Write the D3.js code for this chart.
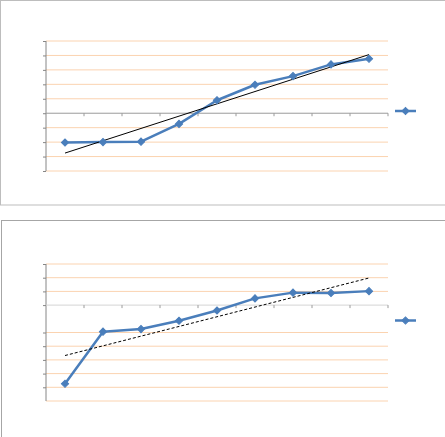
<!DOCTYPE html>
<html>
<head>
<meta charset="utf-8">
<style>
    body { margin: 0; background: #fff; }
    svg { display: block; font-family: "Liberation Sans", Arial, sans-serif; }
</style>
</head>
<body>
<div id="container"></div>
<script src="https://cdn.jsdelivr.net/npm/d3@7"></script>
<script>
    // Data
    let categories = [1, 2, 3, 4, 5, 6, 7, 8, 9];
    let topValues = [-2.03, -2.0, -1.97, -0.74, 0.90, 1.97, 2.57, 3.38, 3.77];
    let bottomValues = [-5.74, -1.94, -1.75, -1.14, -0.39, 0.49, 0.91, 0.88, 1.02];

    // Axis ticks / gridlines
    let topTicks = [5, 4, 3, 2, 1, 0, -1, -2, -3, -4];
    let bottomTicks = [3, 2, 1, 0, -2, -3, -4, -5, -6];
    let bottomGrid = [3, 2, 1, -2, -3, -4, -5, -6, -7];

    let blue = "#4a7ebb";
    let gridColor = "#fbd3b0";

    let svg = d3.select("#container")
        .append("svg")
        .attr("width", 445)
        .attr("height", 437);

    // Chart frames
    svg.append("rect")
        .attr("x", 0.5).attr("y", 0.5)
        .attr("width", 460).attr("height", 204.5)
        .attr("fill", "none").attr("stroke", "#bdbdbd");
    svg.append("rect")
        .attr("x", 1.5).attr("y", 220.5)
        .attr("width", 460).attr("height", 240)
        .attr("fill", "none").attr("stroke", "#a6a6a6");

    function linearFit(values) {
        let xs = values.map((d, i) => i + 1);
        let mx = d3.mean(xs), my = d3.mean(values);
        let sxy = d3.sum(xs, (x, i) => (x - mx) * (values[i] - my));
        let sxx = d3.sum(xs, x => (x - mx) * (x - mx));
        let slope = sxy / sxx;
        return x => my + slope * (x - mx);
    }

    function drawChart(opts) {
        let g = svg.append("g");

        let x = d3.scaleBand()
            .domain(categories)
            .range([46, 388]);

        let y = d3.scaleLinear()
            .domain(opts.domain)
            .range([opts.top, opts.bottom]);

        // Gridlines
        g.selectAll(".grid")
            .data(opts.grid)
            .enter()
            .append("line")
            .attr("x1", 46).attr("x2", 388)
            .attr("y1", d => y(d)).attr("y2", d => y(d))
            .attr("stroke", gridColor)
            .attr("stroke-width", 1);

        // Y axis
        let yAxis = d3.axisLeft(y)
            .tickValues(opts.ticks)
            .tickSize(3)
            .tickFormat("");
        let ya = g.append("g")
            .attr("transform", "translate(46,0)")
            .call(yAxis);
        ya.select(".domain").attr("stroke", "#868686").attr("d", `M0,${opts.top}V${opts.bottom}`);
        ya.selectAll(".tick line").attr("stroke", "#868686");

        // X axis on zero line, ticks at category boundaries
        let xa = g.append("g")
            .attr("transform", `translate(0,${y(0)})`);
        xa.append("line")
            .attr("x1", 46).attr("x2", 388)
            .attr("stroke", opts.zeroColor);
        xa.selectAll(".xt")
            .data(categories)
            .enter()
            .append("line")
            .attr("x1", d => x(d) + x.bandwidth())
            .attr("x2", d => x(d) + x.bandwidth())
            .attr("y1", 0).attr("y2", 3)
            .attr("stroke", "#9a9a9a");

        let cx = d => x(d) + x.bandwidth() / 2;

        // Series line
        let line = d3.line()
            .x((d, i) => cx(categories[i]))
            .y(d => y(d));

        g.append("path")
            .datum(opts.values)
            .attr("fill", "none")
            .attr("stroke", blue)
            .attr("stroke-width", 2.5)
            .attr("stroke-linejoin", "round")
            .attr("d", line);

        // Linear trendline
        let fit = linearFit(opts.values);
        g.append("line")
            .attr("x1", cx(categories[0]))
            .attr("y1", y(fit(1)))
            .attr("x2", cx(categories[categories.length - 1]))
            .attr("y2", y(fit(categories.length)))
            .attr("stroke", "#000")
            .attr("stroke-width", 1)
            .attr("stroke-dasharray", opts.dash);

        // Markers
        let diamond = d3.symbol().type(d3.symbolSquare).size(26);
        g.selectAll(".marker")
            .data(opts.values)
            .enter()
            .append("path")
            .attr("d", diamond)
            .attr("transform", (d, i) => `translate(${cx(categories[i])},${y(d)}) rotate(45)`)
            .attr("fill", blue)
            .attr("stroke", blue)
            .attr("stroke-width", 1);

        // Legend
        let lg = g.append("g")
            .attr("transform", `translate(395,${opts.legendY})`);
        lg.append("line")
            .attr("x1", 0).attr("x2", 21)
            .attr("stroke", blue)
            .attr("stroke-width", 2.5);
        lg.append("path")
            .attr("d", diamond)
            .attr("transform", "translate(10.5,0) rotate(45)")
            .attr("fill", blue)
            .attr("stroke", blue);
    }

    drawChart({
        values: topValues,
        domain: [5, -4],
        top: 41,
        bottom: 171,
        ticks: topTicks,
        grid: topTicks.filter(d => d !== 0),
        zeroColor: "#9a9a9a",
        dash: null,
        legendY: 111
    });

    drawChart({
        values: bottomValues,
        domain: [3, -7],
        top: 264,
        bottom: 401,
        ticks: bottomTicks,
        grid: bottomGrid,
        zeroColor: "#d4d4d4",
        dash: "3,2",
        legendY: 320.5
    });
</script>
</body>
</html>
